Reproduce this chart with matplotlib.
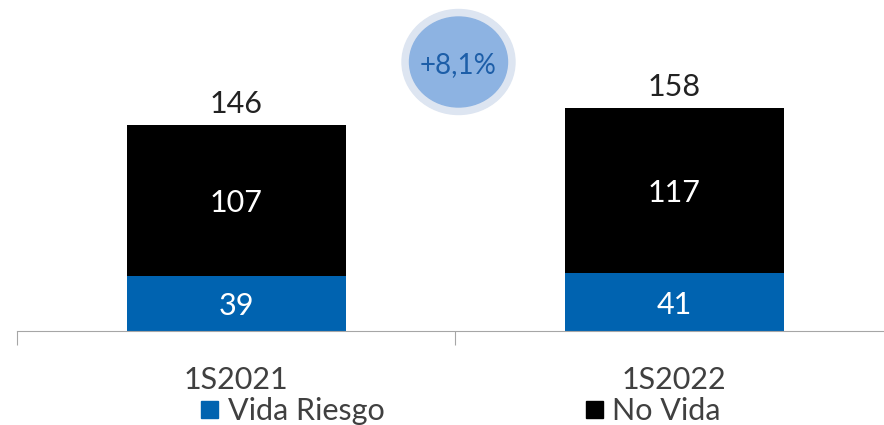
import matplotlib
matplotlib.use("Agg")
import matplotlib.pyplot as plt
from matplotlib.patches import Ellipse, Rectangle

# datos
categories = ["1S2021", "1S2022"]
vida_riesgo = [39, 41]
no_vida = [107, 117]
totals = [146, 158]
series_names = ["Vida Riesgo", "No Vida"]
growth_label = "+8,1%"

blue = "#0063b0"
black = "#000000"
grey = "#a6a6a6"

plt.rcParams['font.family'] = ['Lato', 'DejaVu Sans']

W, H = 884, 425
fig = plt.figure(figsize=(W / 100, H / 100), dpi=100)

# ejes: linea base en y=331 px, categorias de 438 px empezando en x=17
ax = fig.add_axes([17 / W, (H - 331) / H, 876 / W, 331 / H])
x = list(range(len(categories)))
ax.bar(x, vida_riesgo, width=0.5, color=blue)
ax.bar(x, no_vida, width=0.5, bottom=vida_riesgo, color=black)
ax.set_xlim(-0.5, 1.5)
ax.set_ylim(0, 331 / 1.411)

for i in x:
    ax.text(i, vida_riesgo[i] / 2 - 2, str(vida_riesgo[i]), ha="center", va="center",
            color="white", fontsize=22)
    ax.text(i, vida_riesgo[i] + no_vida[i] / 2 - 2, str(no_vida[i]), ha="center",
            va="center", color="white", fontsize=22)
    ax.text(i, totals[i] + 5, str(totals[i]), ha="center", va="bottom",
            color="#222222", fontsize=22)

for s in ["top", "right", "left"]:
    ax.spines[s].set_visible(False)
ax.spines["bottom"].set_color(grey)
ax.set_yticks([])
ax.set_xticks([-0.5, 0.5, 1.5])
ax.set_xticklabels([])
ax.tick_params(axis="x", length=10, color=grey)

# etiquetas de categoria
for i, c in enumerate(categories):
    xp = (17 + 438 * (i + 0.5)) / W
    fig.text(xp, 1 - 380 / H, c, ha="center", va="center", color="#404040",
             fontsize=22)

# leyenda
legend_pos = [(201, 228), (586, 612)]
for (sx, tx), name, col in zip(legend_pos, series_names, [blue, black]):
    fig.patches.append(Rectangle((sx / W, 1 - 418 / H), 17 / W, 17 / H,
                                 transform=fig.transFigure, color=col))
    fig.text(tx / W, 1 - 411 / H, name, ha="left", va="center", color="#404040",
             fontsize=22)

# burbuja de crecimiento
cx, cy = 458.5 / W, 1 - 62 / H
fig.patches.append(Ellipse((cx, cy), 113 / W, 105 / H, transform=fig.transFigure,
                           color="#dde5f1"))
fig.patches.append(Ellipse((cx, cy), 98 / W, 90 / H, transform=fig.transFigure,
                           color="#8db3e2"))
fig.text(cx, cy - 3 / H, growth_label, ha="center", va="center", color="#1d5ea8",
         fontsize=20)

fig.savefig("out.png", dpi=100)
